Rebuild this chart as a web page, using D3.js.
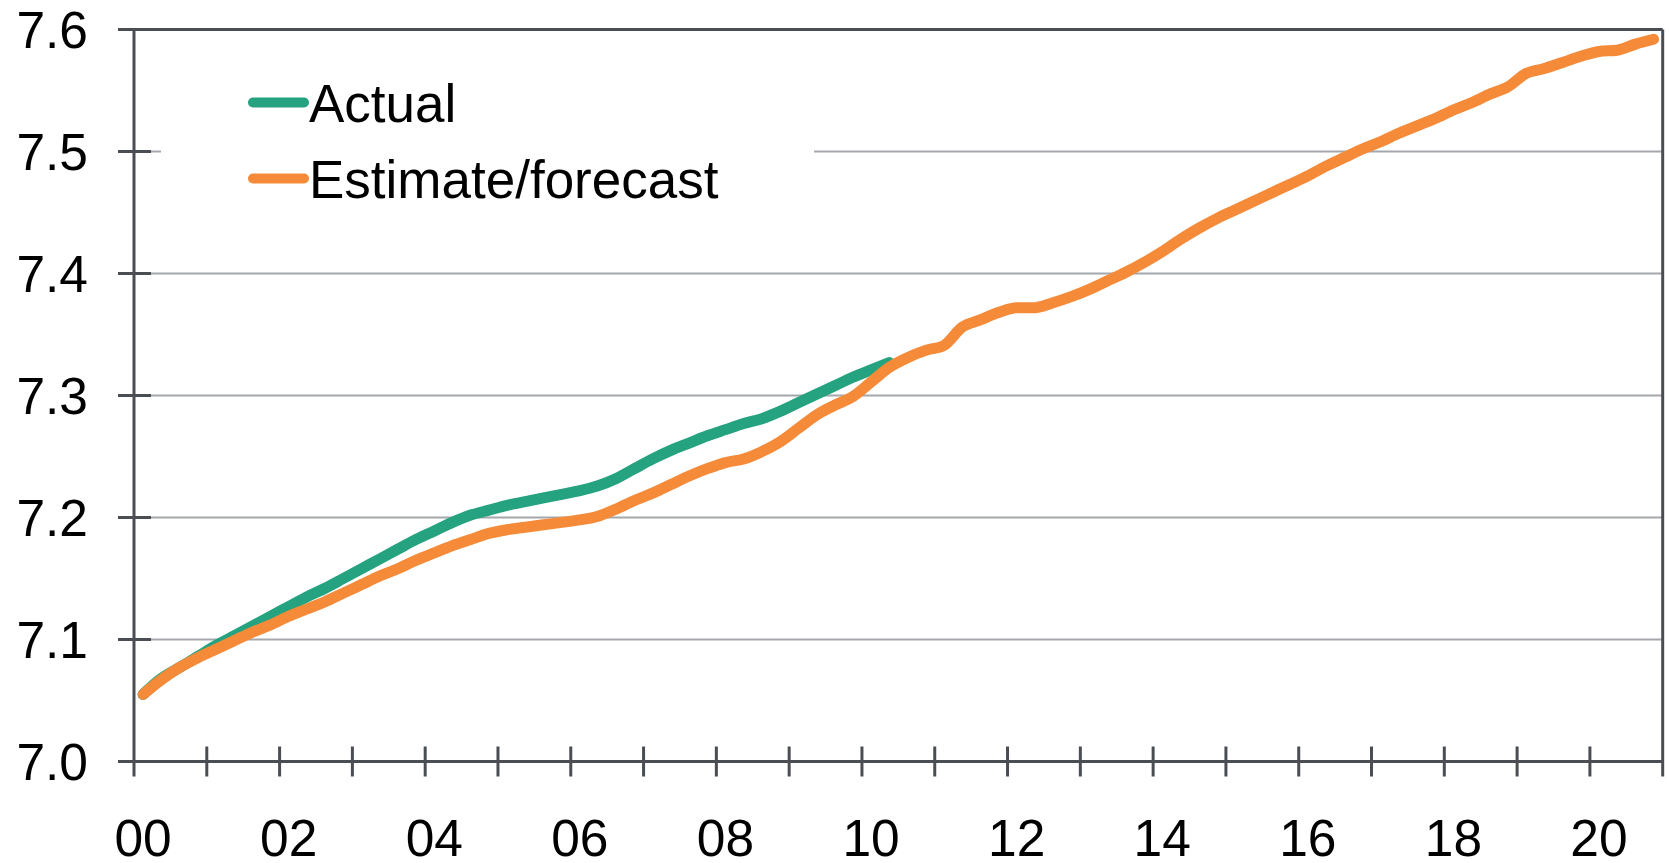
<!DOCTYPE html>
<html>
<head>
<meta charset="utf-8">
<script src="https://cdn.jsdelivr.net/npm/d3@7/dist/d3.min.js"></script>
<style>
  html, body { margin: 0; padding: 0; background: #fff; }
  svg { display: block; font-family: "Liberation Sans", Arial, sans-serif; }
</style>
</head>
<body>
<svg id="chart" width="1669" height="863"></svg>
<script>
// Quarterly periods, 2000Q1 .. 2020Q4
const years = d3.range(2000, 2021);
const quarters = years.flatMap(yr => [1, 2, 3, 4].map(q => `${yr}Q${q}`));

// Year labels shown every second year
const yearLabels = ["00", "02", "04", "06", "08", "10", "12", "14", "16", "18", "20"];

// Y-axis tick values
const yTicks = [7.0, 7.1, 7.2, 7.3, 7.4, 7.5, 7.6];

// Actual series (2000Q1 .. 2010Q2)
const actual = [
  7.055, 7.068, 7.077, 7.086, 7.095, 7.103, 7.111, 7.119, 7.127, 7.135,
  7.142, 7.150, 7.158, 7.166, 7.174, 7.182, 7.189, 7.196, 7.202, 7.206,
  7.210, 7.213, 7.216, 7.219, 7.222, 7.226, 7.232, 7.240, 7.248, 7.255,
  7.261, 7.267, 7.272, 7.277, 7.281, 7.287, 7.294, 7.301, 7.308, 7.315,
  7.321, 7.327
];

// Estimate / forecast series (2000Q1 .. 2020Q4)
const estimate = [
  7.055, 7.067, 7.077, 7.085, 7.092, 7.099, 7.106, 7.112, 7.119, 7.125,
  7.131, 7.138, 7.145, 7.152, 7.158, 7.165, 7.171, 7.177, 7.182, 7.187,
  7.190, 7.192, 7.194, 7.196, 7.198, 7.201, 7.207, 7.214, 7.220, 7.227,
  7.234, 7.240, 7.245, 7.248, 7.254, 7.262, 7.273, 7.284, 7.292, 7.299,
  7.311, 7.323, 7.331, 7.337, 7.341, 7.356, 7.362, 7.368, 7.372, 7.372,
  7.376, 7.381, 7.387, 7.394, 7.401, 7.409, 7.418, 7.428, 7.437, 7.445,
  7.452, 7.459, 7.466, 7.473, 7.480, 7.488, 7.495, 7.502, 7.508, 7.515,
  7.521, 7.527, 7.534, 7.540, 7.547, 7.553, 7.564, 7.568, 7.573, 7.578,
  7.582, 7.583, 7.588, 7.592
];

const seriesNames = ["Actual", "Estimate/forecast"];
const seriesColors = ["#25a27f", "#f58a39"];

const svg = d3.select("#chart");
const axisColor = "#4a4e54";
const gridColor = "#a4a7ab";
const axisFont = 51.5;
const legendFont = 53;

const plotLeft = 134, plotRight = 1662.7, plotTop = 29.5, plotBottom = 761.5;

const x = d3.scaleBand().domain(quarters).range([plotLeft, plotRight]).paddingInner(0).paddingOuter(0);
const y = d3.scaleLinear().domain([7.0, 7.6]).range([plotBottom, plotTop]);
const cx = q => x(q) + x.bandwidth() / 2;

// Horizontal gridlines
svg.append("g").selectAll("line")
  .data(yTicks.filter(v => v > 7.0 && v < 7.6))
  .join("line")
  .attr("x1", plotLeft).attr("x2", plotRight)
  .attr("y1", d => y(d)).attr("y2", d => y(d))
  .attr("stroke", gridColor).attr("stroke-width", 2);

// Legend background (covers the gridline behind it)
svg.append("rect")
  .attr("x", 161).attr("y", 60).attr("width", 653).attr("height", 150)
  .attr("fill", "#fff");

// Plot frame: top and right edges
svg.append("line")
  .attr("x1", 118).attr("x2", plotRight).attr("y1", y(7.6)).attr("y2", y(7.6))
  .attr("stroke", axisColor).attr("stroke-width", 3);
svg.append("line")
  .attr("x1", plotRight).attr("x2", plotRight).attr("y1", y(7.6)).attr("y2", plotBottom + 15)
  .attr("stroke", axisColor).attr("stroke-width", 3);

// Y axis line, ticks and labels
svg.append("line")
  .attr("x1", plotLeft).attr("x2", plotLeft).attr("y1", y(7.6)).attr("y2", plotBottom + 15)
  .attr("stroke", axisColor).attr("stroke-width", 3);
svg.append("g").selectAll("line")
  .data(yTicks)
  .join("line")
  .attr("x1", 118).attr("x2", 151)
  .attr("y1", d => y(d)).attr("y2", d => y(d))
  .attr("stroke", axisColor).attr("stroke-width", 3);
svg.append("g").selectAll("text")
  .data(yTicks)
  .join("text")
  .attr("x", 88).attr("y", d => y(d))
  .attr("dy", "0.355em")
  .attr("text-anchor", "end")
  .attr("font-size", axisFont)
  .attr("fill", "#000")
  .text(d => d3.format(".1f")(d));

// X axis line, year-boundary ticks and labels
svg.append("line")
  .attr("x1", 118).attr("x2", plotRight).attr("y1", plotBottom).attr("y2", plotBottom)
  .attr("stroke", axisColor).attr("stroke-width", 3);
const yearStarts = quarters.filter(q => q.endsWith("Q1"));
svg.append("g").selectAll("line")
  .data(yearStarts.slice(1))
  .join("line")
  .attr("x1", d => x(d)).attr("x2", d => x(d))
  .attr("y1", plotBottom - 15).attr("y2", plotBottom + 15)
  .attr("stroke", axisColor).attr("stroke-width", 3);
svg.append("g").selectAll("text")
  .data(yearLabels)
  .join("text")
  .attr("x", d => cx(`20${d}Q1`))
  .attr("y", 856)
  .attr("text-anchor", "middle")
  .attr("font-size", axisFont)
  .attr("fill", "#000")
  .text(d => d);

// Series lines
const line = d3.line()
  .curve(d3.curveMonotoneX)
  .x((d, i) => cx(quarters[i]))
  .y(d => y(d));

[actual, estimate].forEach((vals, k) => {
  svg.append("path")
    .datum(vals)
    .attr("d", line)
    .attr("fill", "none")
    .attr("stroke", seriesColors[k])
    .attr("stroke-width", 11)
    .attr("stroke-linejoin", "round")
    .attr("stroke-linecap", "round");
});

// Legend
const legendY = [102.5, 178.5];
seriesNames.forEach((name, k) => {
  svg.append("line")
    .attr("x1", 253).attr("x2", 304)
    .attr("y1", legendY[k]).attr("y2", legendY[k])
    .attr("stroke", seriesColors[k])
    .attr("stroke-width", 10)
    .attr("stroke-linecap", "round");
  svg.append("text")
    .attr("x", 309).attr("y", legendY[k] + 19.5)
    .attr("font-size", legendFont)
    .attr("fill", "#000")
    .text(name);
});
</script>
</body>
</html>
